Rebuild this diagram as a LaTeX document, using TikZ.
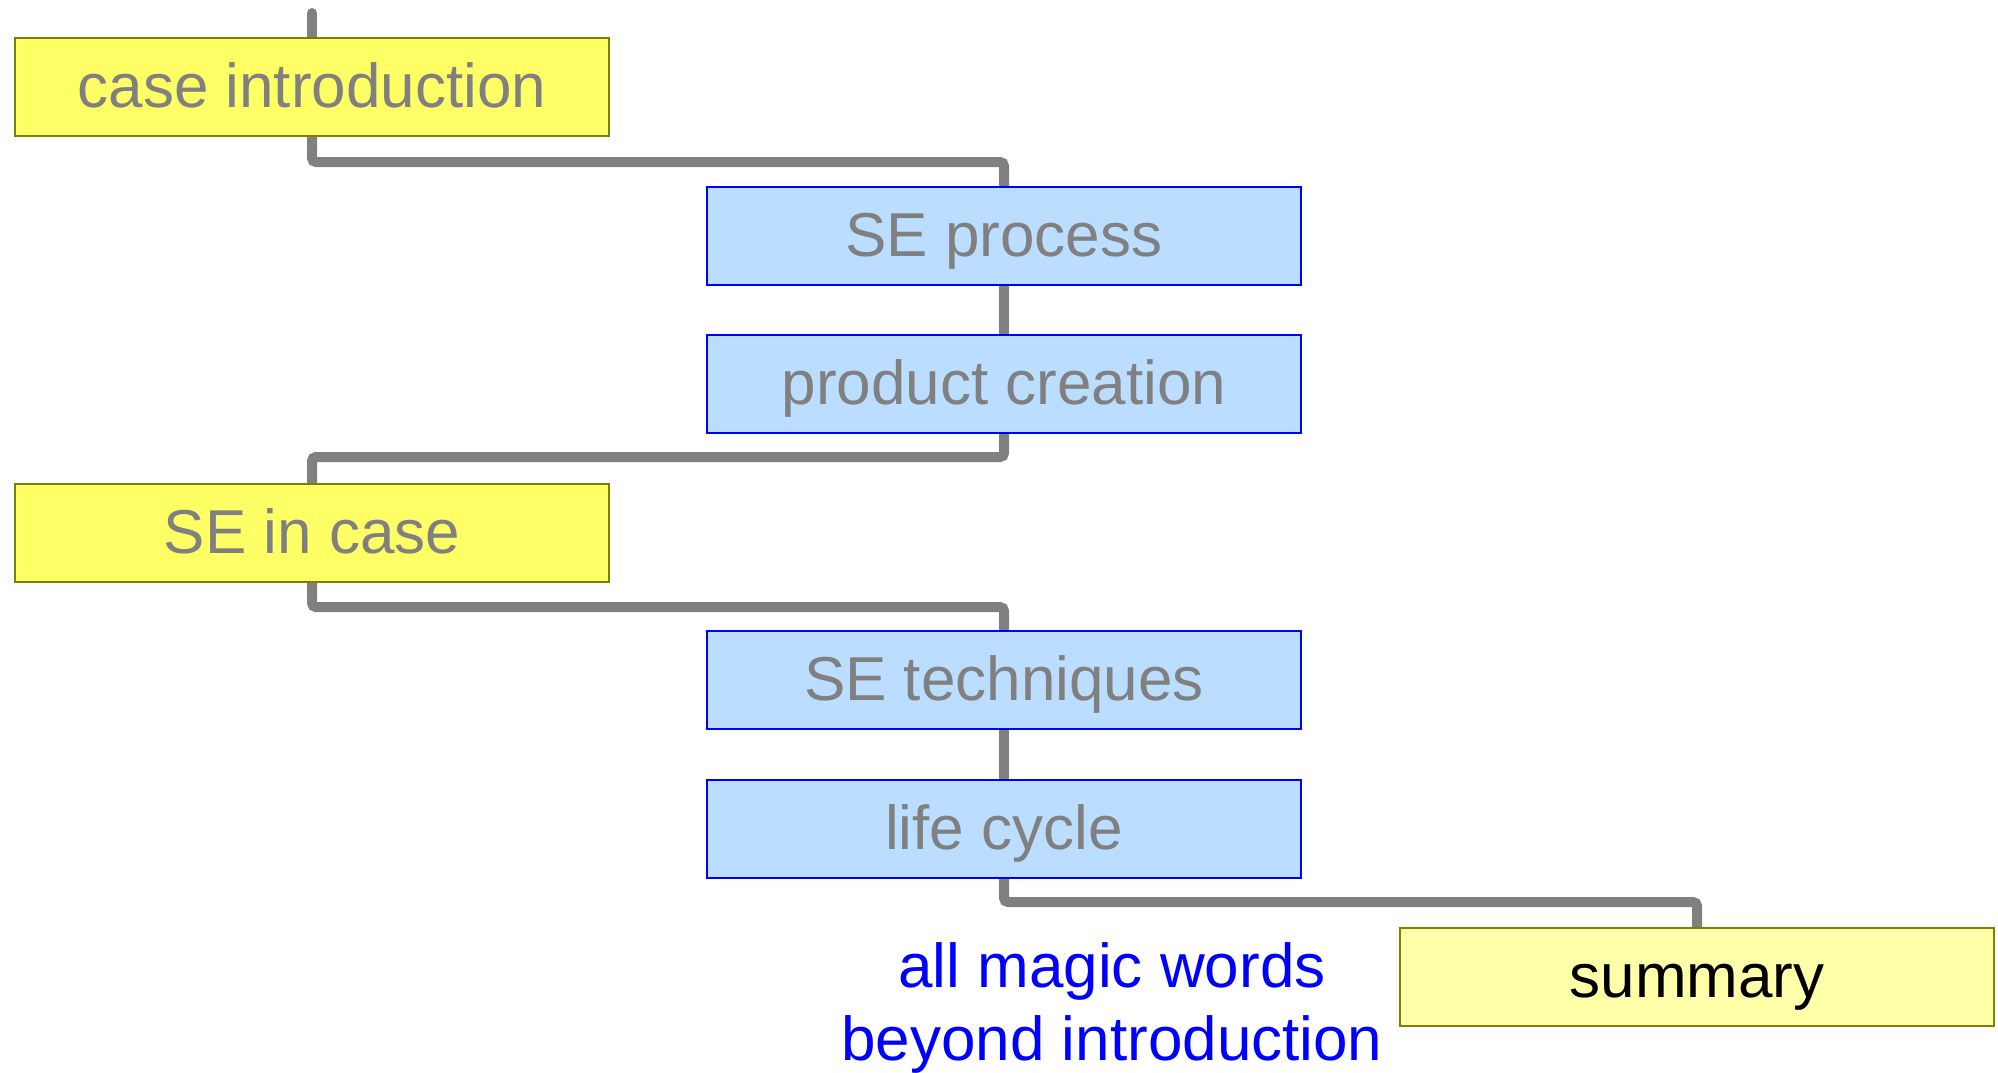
\documentclass[tikz,border=0pt]{standalone}
\usepackage{fontspec}
\setmainfont{Liberation Sans}
\usetikzlibrary{backgrounds}
\definecolor{linegray}{RGB}{128,128,128}
\definecolor{boxyellow}{RGB}{255,255,102}
\definecolor{lightyellow}{RGB}{255,255,170}
\definecolor{olive}{RGB}{128,128,0}
\definecolor{boxblue}{RGB}{187,221,255}
\definecolor{textgray}{RGB}{128,128,128}
\begin{document}
\begin{tikzpicture}[x=0.5pt,y=-0.5pt,
  base/.style={rectangle, minimum width=297pt, minimum height=49pt, inner sep=0pt,
    line width=1pt, font=\fontsize{31}{37}\selectfont, text height=23pt, text depth=3pt},
  ybox/.style={base, draw=olive, fill=boxyellow, text=textgray},
  bbox/.style={base, draw=blue, fill=boxblue, text=textgray},
  sbox/.style={base, draw=olive, fill=lightyellow, text=black},
  conn/.style={draw=linegray, line width=5pt, rounded corners=2pt, line cap=round}]
\useasboundingbox (0,0) rectangle (1998,1072);
\coordinate (start) at (312,13);
\node[ybox] (ci) at (312,87) {case introduction};
\node[bbox] (sep) at (1004,236) {SE process};
\node[bbox] (pc) at (1004,384) {product creation};
\node[ybox] (sec) at (312,533) {SE in case};
\node[bbox] (set) at (1004,680) {SE techniques};
\node[bbox] (lc) at (1004,829) {life cycle};
\node[sbox] (sum) at (1697,977) {summary};
\node[anchor=north, inner sep=0pt, align=center, text=blue,
  font=\fontsize{31}{36.5}\selectfont] (magic) at (1112,942) {all magic words\\beyond introduction};
\begin{scope}[on background layer]
  \draw[conn] (start) -- (ci.center);
  \draw[conn] (ci.center) -- ++(0,75) -| (sep.center);
  \draw[conn] (sep.center) -- (pc.center);
  \draw[conn] (pc.center) -- ++(0,73) -| (sec.center);
  \draw[conn] (sec.center) -- ++(0,74) -| (set.center);
  \draw[conn] (set.center) -- (lc.center);
  \draw[conn] (lc.center) -- ++(0,73) -| (sum.center);
\end{scope}
\end{tikzpicture}
\end{document}
